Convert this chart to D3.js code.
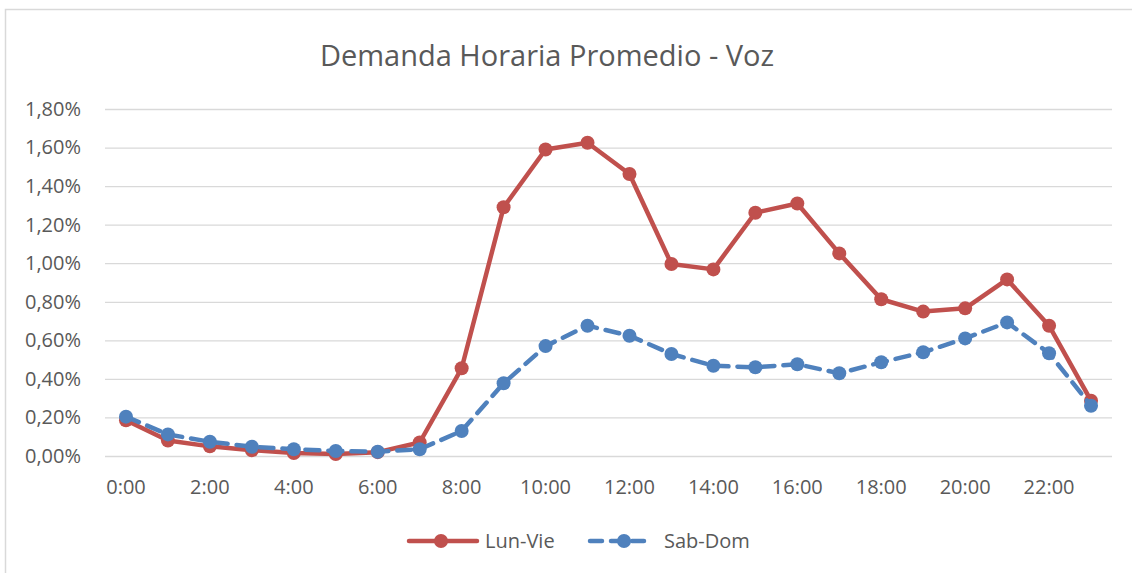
<!DOCTYPE html>
<html>
<head>
<meta charset="utf-8">
<script src="https://cdn.jsdelivr.net/npm/d3@7"></script>
<style>
  body { margin: 0; background: #fff; }
  svg text { font-family: "Open Sans", "Noto Sans", sans-serif; fill: #595959; }
</style>
</head>
<body>
<div id="chart"></div>
<script>
// Hours of the day (category axis)
const hours = d3.range(24).map(h => h + ':00');
// Average hourly demand, % of total
const lunVie = [0.185, 0.08, 0.05, 0.03, 0.015, 0.01, 0.02, 0.07, 0.455, 1.29, 1.59, 1.625,
  1.463, 0.996, 0.968, 1.262, 1.31, 1.051, 0.813, 0.749, 0.766, 0.916, 0.676, 0.287];
const sabDom = [0.204, 0.112, 0.074, 0.048, 0.035, 0.026, 0.022, 0.035, 0.13, 0.377, 0.57, 0.676,
  0.624, 0.529, 0.468, 0.46, 0.476, 0.429, 0.486, 0.538, 0.61, 0.693, 0.533, 0.261];
const yTicks = [0, 0.2, 0.4, 0.6, 0.8, 1.0, 1.2, 1.4, 1.6, 1.8];
const seriesNames = ['Lun-Vie', 'Sab-Dom'];

let w = 1132, h = 573,
  plotL = 105, plotR = 1112, plotT = 109, plotB = 456;

const svg = d3.select('#chart').append('svg')
  .attr('width', w).attr('height', h);

// Outer chart border
svg.append('rect')
  .attr('x', 5.5).attr('y', 9.5)
  .attr('width', w).attr('height', h)
  .attr('fill', '#fff').attr('stroke', '#d9d9d9').attr('stroke-width', 1.5);

// Title
svg.append('text')
  .attr('x', 547).attr('y', 66)
  .attr('text-anchor', 'middle')
  .style('font-size', '29px')
  .text('Demanda Horaria Promedio - Voz');

const x = d3.scaleBand().domain(hours).range([plotL, plotR]);
const y = d3.scaleLinear().domain([0, 1.8]).range([plotB, plotT]);
const fmt = v => v.toFixed(2).replace('.', ',') + '%';

// Horizontal gridlines + y labels
const yAxis = svg.append('g')
  .attr('transform', 'translate(' + plotL + ',0)')
  .call(d3.axisLeft(y).tickValues(yTicks).tickFormat(fmt)
    .tickSize(-(plotR - plotL)).tickPadding(24));
yAxis.select('.domain').remove();
yAxis.selectAll('line').attr('stroke', '#d9d9d9').attr('stroke-width', 1.3);
yAxis.selectAll('text').style('font-size', '20px');

// X labels every 2 hours
const xAxis = svg.append('g')
  .attr('transform', 'translate(0,' + plotB + ')')
  .call(d3.axisBottom(x).tickValues(hours.filter((d, i) => i % 2 === 0))
    .tickSize(0).tickPadding(24));
xAxis.select('.domain').remove();
xAxis.selectAll('text').style('font-size', '20px');

const cx = d => x(d) + x.bandwidth() / 2;
const line = d3.line().x((d, i) => cx(hours[i])).y(d => y(d));

// Lun-Vie: solid red
svg.append('path').datum(lunVie)
  .attr('d', line).attr('fill', 'none')
  .attr('stroke', '#c0504d').attr('stroke-width', 4.5).attr('stroke-linejoin', 'round');
svg.append('g').selectAll('circle').data(lunVie).enter().append('circle')
  .attr('cx', (d, i) => cx(hours[i])).attr('cy', d => y(d)).attr('r', 7)
  .attr('fill', '#c0504d');

// Sab-Dom: dashed blue
svg.append('path').datum(sabDom)
  .attr('d', line).attr('fill', 'none')
  .attr('stroke', '#4f81bd').attr('stroke-width', 4.5)
  .attr('stroke-dasharray', '14 9').attr('stroke-linecap', 'round');
svg.append('g').selectAll('circle').data(sabDom).enter().append('circle')
  .attr('cx', (d, i) => cx(hours[i])).attr('cy', d => y(d)).attr('r', 7)
  .attr('fill', '#4f81bd');

// Legend
const legend = svg.append('g').attr('transform', 'translate(0,541)');
legend.append('line').attr('x1', 409).attr('x2', 477)
  .attr('stroke', '#c0504d').attr('stroke-width', 4.5).attr('stroke-linecap', 'round');
legend.append('circle').attr('cx', 441).attr('r', 7).attr('fill', '#c0504d');
legend.append('text').attr('x', 485).attr('y', 7).style('font-size', '20px').text(seriesNames[0]);

legend.append('line').attr('x1', 590).attr('x2', 648)
  .attr('stroke', '#4f81bd').attr('stroke-width', 4.5).attr('stroke-linecap', 'round')
  .attr('stroke-dasharray', '12 9');
legend.append('circle').attr('cx', 624).attr('r', 7).attr('fill', '#4f81bd');
legend.append('text').attr('x', 664).attr('y', 7).style('font-size', '20px').text(seriesNames[1]);
</script>
</body>
</html>
